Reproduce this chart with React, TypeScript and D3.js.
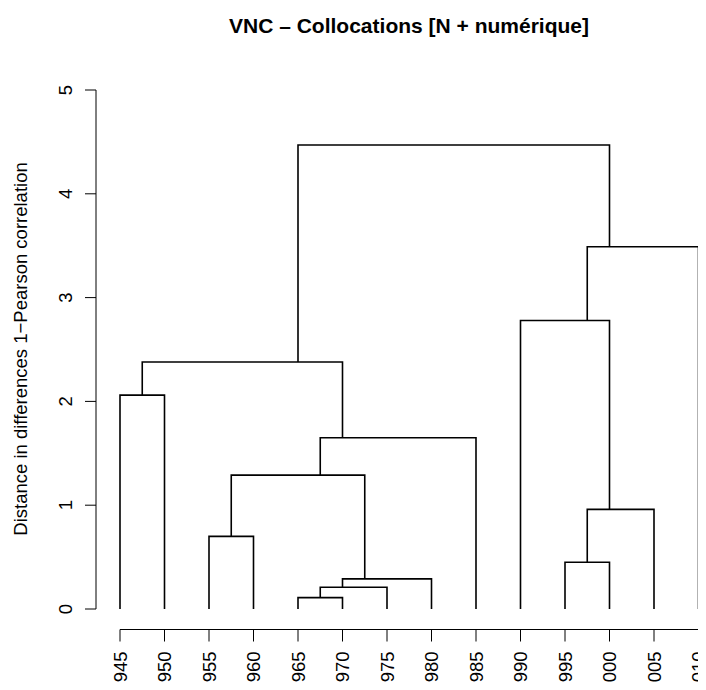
import React, { useEffect, useRef } from 'react';
import * as d3 from 'd3';

// leaves, in VNC order
const years = ['1945', '1950', '1955', '1960', '1965', '1970', '1975', '1980', '1985', '1990', '1995', '2000', '2005', '2010'];

// merges, R hclust style: negative = leaf (1-based), positive = earlier merge row
const mergeLeft = [-5, 1, 2, -11, -3, 4, 5, 7, -1, 9, -10, 11, 10];
const mergeRight = [-6, -7, -8, -12, -4, -13, 3, -9, -2, 8, 6, -14, 12];
const mergeHeight = [0.11, 0.21, 0.29, 0.45, 0.7, 0.96, 1.29, 1.65, 2.06, 2.38, 2.78, 3.49, 4.47];

const yTicks = [0, 1, 2, 3, 4, 5];

const font = 'Liberation Sans, Arial, Helvetica, sans-serif';
const fs = 18.5;

const App: React.FC = () => {
  const svgRef = useRef<SVGSVGElement>(null);

  useEffect(() => {
    const width = 706;
    const height = 690;
    const svg = d3.select(svgRef.current);
    svg.selectAll('*').remove();
    svg.attr('width', width).attr('height', height);

    const x = d3.scalePoint<string>().domain(years).range([120, 698.5]);
    const y = d3.scaleLinear().domain([0, 5]).range([609, 90]);

    // title
    svg
      .append('text')
      .attr('x', 409)
      .attr('y', 33)
      .attr('text-anchor', 'middle')
      .attr('font-family', font)
      .attr('font-weight', 'bold')
      .attr('font-size', 21)
      .text('VNC – Collocations [N + numérique]');

    // y label
    svg
      .append('text')
      .attr('transform', `translate(27, 349) rotate(-90)`)
      .attr('text-anchor', 'middle')
      .attr('font-family', font)
      .attr('font-size', fs)
      .text('Distance in differences 1−Pearson correlation');

    // y axis
    const yAxis = svg.append('g').attr('transform', 'translate(96,0)');
    yAxis
      .append('line')
      .attr('y1', y(0))
      .attr('y2', y(5))
      .attr('stroke', '#000');
    yAxis
      .selectAll('line.tick')
      .data(yTicks)
      .enter()
      .append('line')
      .attr('class', 'tick')
      .attr('x1', -11)
      .attr('x2', 0)
      .attr('y1', d => y(d))
      .attr('y2', d => y(d))
      .attr('stroke', '#000');
    yAxis
      .selectAll('text')
      .data(yTicks)
      .enter()
      .append('text')
      .attr('transform', d => `translate(-24.5, ${y(d)}) rotate(-90)`)
      .attr('text-anchor', 'middle')
      .attr('font-family', font)
      .attr('font-size', fs)
      .text(d => d);

    // x axis
    const axisY = 629.5;
    const xAxis = svg.append('g');
    xAxis
      .append('line')
      .attr('x1', x(years[0])!)
      .attr('x2', x(years[years.length - 1])!)
      .attr('y1', axisY)
      .attr('y2', axisY)
      .attr('stroke', '#000');
    xAxis
      .selectAll('line.tick')
      .data(years)
      .enter()
      .append('line')
      .attr('class', 'tick')
      .attr('x1', d => x(d)!)
      .attr('x2', d => x(d)!)
      .attr('y1', axisY)
      .attr('y2', axisY + 12)
      .attr('stroke', '#000');
    xAxis
      .selectAll('text')
      .data(years)
      .enter()
      .append('text')
      .attr('transform', d => `translate(${x(d)! + 6.6}, ${axisY + 22}) rotate(-90)`)
      .attr('text-anchor', 'end')
      .attr('font-family', font)
      .attr('font-size', fs)
      .text(d => d);

    // node geometry: span of leaves, x = middle of span
    const span: [number, number][] = [];
    const spanOf = (id: number): [number, number] =>
      id < 0 ? [-id - 1, -id - 1] : span[id - 1];
    const nodeX = (id: number) => {
      const [a, b] = spanOf(id);
      return (x(years[a])! + x(years[b])!) / 2;
    };
    const nodeH = (id: number) => (id < 0 ? 0 : mergeHeight[id - 1]);

    const paths: string[] = [];
    mergeLeft.forEach((l, i) => {
      const r = mergeRight[i];
      const sl = spanOf(l);
      const sr = spanOf(r);
      // left/right by position
      const [a, b] = sl[0] < sr[0] ? [l, r] : [r, l];
      const h = y(mergeHeight[i]);
      paths.push(`M${nodeX(a)},${y(nodeH(a))}V${h}H${nodeX(b)}V${y(nodeH(b))}`);
      span.push([Math.min(sl[0], sr[0]), Math.max(sl[1], sr[1])]);
    });

    svg
      .append('g')
      .selectAll('path')
      .data(paths)
      .enter()
      .append('path')
      .attr('d', d => d)
      .attr('fill', 'none')
      .attr('stroke', '#000')
      .attr('stroke-width', 1.6);
  }, []);

  return <svg ref={svgRef} width="706" height="690" style={{ display: 'block', margin: -8 }}></svg>;
};

export default App;
